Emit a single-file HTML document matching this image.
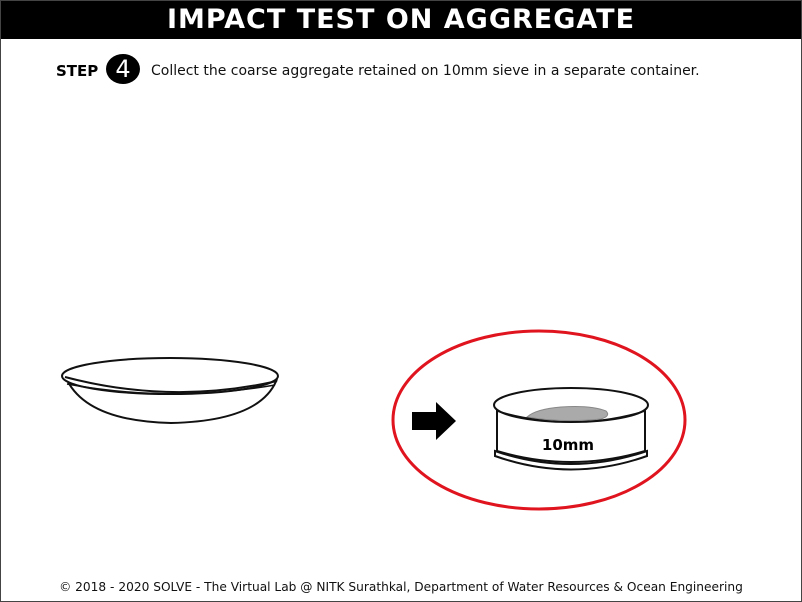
<!DOCTYPE html>
<html><head><meta charset="utf-8"><style>
html,body{margin:0;padding:0;background:#fff;}
#page{position:relative;width:800px;height:600px;border:1px solid #444;overflow:hidden;font-family:Verdana,"DejaVu Sans",sans-serif;}
#hdr{position:absolute;left:0;top:0;width:800px;height:38px;background:#000;color:#fff;font-weight:bold;font-size:27px;text-align:center;line-height:38px;letter-spacing:1px;}
#step{position:absolute;left:55px;top:61px;font-weight:bold;font-size:15px;}
#num{position:absolute;left:105px;top:53px;width:34px;height:30px;border-radius:50%;background:#000;color:#fff;font-size:24px;text-align:center;line-height:30px;}
#desc{position:absolute;left:150px;top:62px;font-size:14px;color:#111;white-space:nowrap;}
#foot{position:absolute;left:0;width:800px;top:579px;text-align:center;font-size:12.2px;color:#111;white-space:nowrap;}
svg{position:absolute;left:0;top:0;}
</style></head><body>
<div id="page">
<div id="hdr">IMPACT TEST ON AGGREGATE</div>
<div id="step">STEP</div>
<div id="num">4</div>
<div id="desc">Collect the coarse aggregate retained on 10mm sieve in a separate container.</div>
<svg width="800" height="600">
 <g fill="#fff" stroke="#111" stroke-width="2">
  <path d="M63 372 Q80 420 170 422 Q260 420 276 378" />
  <ellipse cx="169" cy="375" rx="108" ry="18"/>
  <path d="M64 376 Q170 404 276 380" fill="none" stroke-width="2"/>
  <path d="M66 383 Q170 402 274 384" fill="none" stroke-width="1.5"/>
 </g>
 <ellipse cx="538" cy="419" rx="146" ry="89" fill="none" stroke="#e0141e" stroke-width="3"/>
 <polygon points="411,411 435,411 435,401 455,420 435,439 435,429 411,429" fill="#000"/>
 <g stroke="#111" stroke-width="2" fill="#fff">
  <path d="M496 405 L496 450 Q570 472 644 450 L644 405"/>
  <path d="M494 450 Q570 476 646 450 L646 455 Q570 482 494 455 Z"/>
  <ellipse cx="570" cy="404" rx="77" ry="17"/>
  <path d="M526 416 Q535 408 560 406 Q590 404 605 410 Q610 415 600 418 Q560 422 526 416Z" fill="#aaa" stroke="#888" stroke-width="1"/>
  <path d="M496 410 Q570 432 644 410" fill="none" stroke-width="1.5"/>
  <text x="567" y="449" text-anchor="middle" font-family="Verdana,'DejaVu Sans',sans-serif" font-weight="bold" font-size="15" fill="#000" stroke="none">10mm</text>
 </g>
</svg>
<div id="foot">© 2018 - 2020 SOLVE - The Virtual Lab @ NITK Surathkal, Department of Water Resources &amp; Ocean Engineering</div>
</div>
</body></html>
